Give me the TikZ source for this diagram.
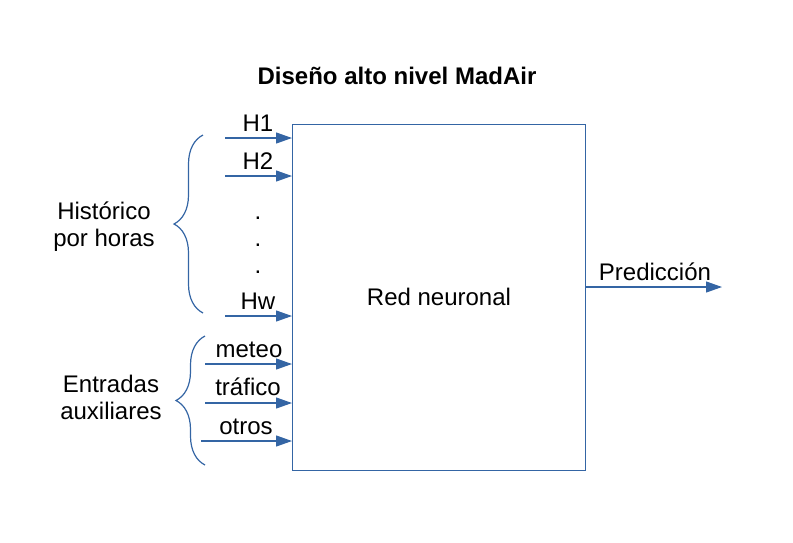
\documentclass[tikz,border=0pt]{standalone}
\usepackage{fontspec}
\setmainfont{Liberation Sans}
\usetikzlibrary{arrows.meta,decorations.pathreplacing}
\definecolor{lineblue}{HTML}{3465A4}
\begin{document}
\begin{tikzpicture}[x=1pt,y=-1pt,
  lbl/.style={font=\fontsize{24}{28}\selectfont,inner sep=0pt,anchor=base},
  arr/.style={draw=lineblue,line width=1.2pt,-{Triangle[length=16pt,width=11pt]}},
  brc/.style={draw=lineblue,line width=1.2pt,decorate,decoration={brace,amplitude=29pt,aspect=0.5}}]
\useasboundingbox (0,0) rectangle (793,542);
\node[font=\bfseries\fontsize{24}{28}\selectfont,inner sep=0pt,anchor=base] (title) at (397,84) {Diseño alto nivel MadAir};
\node[draw=lineblue,line width=1.2pt,minimum width=293pt,minimum height=346pt,anchor=north west,inner sep=0pt] (box) at (292,124) {};
\node[lbl] (rn) at (439,305) {Red neuronal};
% inputs
\coordinate (s1) at (225,138); \coordinate (e1) at (292,138);
\coordinate (s2) at (225,176); \coordinate (e2) at (292,176);
\coordinate (sw) at (225,316); \coordinate (ew) at (292,316);
\coordinate (sm) at (205,364); \coordinate (em) at (292,364);
\coordinate (st) at (205,403); \coordinate (et) at (292,403);
\coordinate (so) at (201,441); \coordinate (eo) at (292,441);
\draw[arr] (s1) -- (e1);
\draw[arr] (s2) -- (e2);
\draw[arr] (sw) -- (ew);
\draw[arr] (sm) -- (em);
\draw[arr] (st) -- (et);
\draw[arr] (so) -- (eo);
\node[lbl] (h1) at (258,131) {H1};
\node[lbl] (h2) at (258,169) {H2};
\node[lbl] (d1) at (258,219) {.};
\node[lbl] (d2) at (258,246) {.};
\node[lbl] (d3) at (258,273) {.};
\node[lbl] (hw) at (258,309) {Hw};
\node[lbl] (me) at (249,357) {meteo};
\node[lbl] (tr) at (248,395) {tráfico};
\node[lbl] (ot) at (246,434) {otros};
% output
\coordinate (out) at (722,287);
\draw[arr] (box.east |- out) -- (out);
\node[lbl] (pred) at (655,280) {Predicción};
% braces
\coordinate (b1a) at (203,313); \coordinate (b1b) at (203,135);
\coordinate (b2a) at (205,465); \coordinate (b2b) at (205,336);
\draw[brc] (b1a) -- (b1b);
\draw[brc] (b2a) -- (b2b);
\node[lbl] (hist1) at (104,219) {Histórico};
\node[lbl] (hist2) at (104,246) {por horas};
\node[lbl] (aux1) at (111,392) {Entradas};
\node[lbl] (aux2) at (111,419) {auxiliares};
\end{tikzpicture}
\end{document}
